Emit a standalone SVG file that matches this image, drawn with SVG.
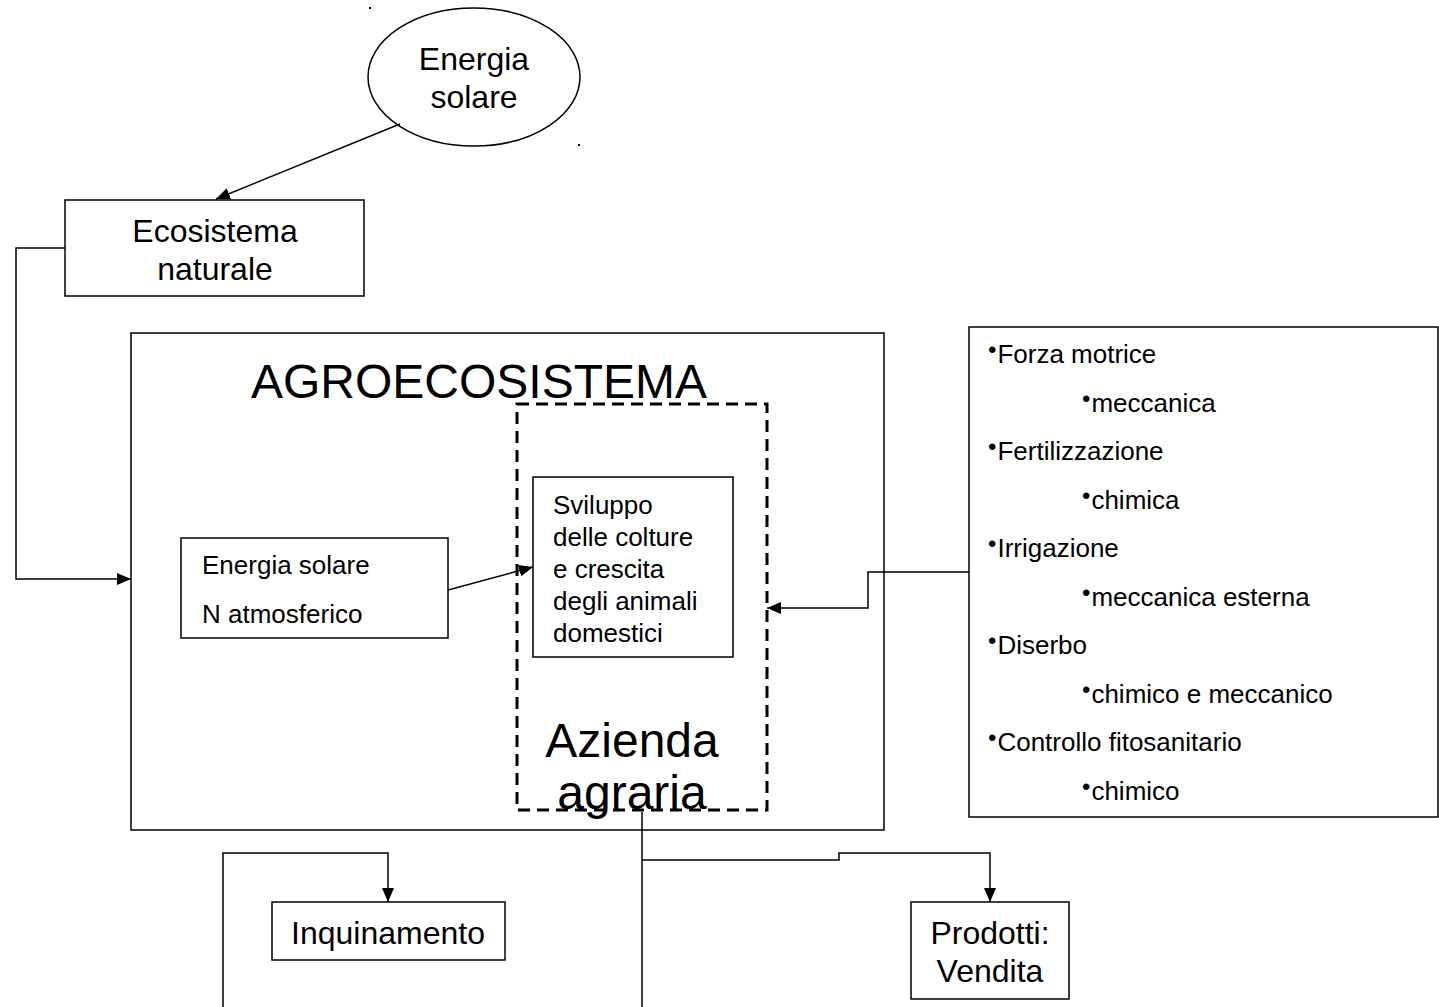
<svg xmlns="http://www.w3.org/2000/svg" width="1439" height="1007" viewBox="0 0 1439 1007">
<style>
.box{fill:#fff;stroke:#000;stroke-width:1.5}
.ln{fill:none;stroke:#000;stroke-width:1.5}
.t{font-family:"Liberation Sans",Arial,sans-serif;fill:#000}
.big{font-size:32px}
.huge{font-size:48px}
.sm{font-size:26px}
.b{font-size:24px}
</style>
<defs>
<marker id="ahL" viewBox="0 0 14 12" refX="14" refY="6" markerWidth="14" markerHeight="12" markerUnits="userSpaceOnUse" orient="auto">
<path d="M0,0 L14,6 L0,12 z" fill="#000"/>
</marker>
</defs>
<rect width="1439" height="1007" fill="#fff"/>
<rect x="369" y="7" width="2" height="2" fill="#000"/>
<rect x="578" y="144" width="2" height="2" fill="#000"/>

<g id="agroecosistema">
<rect class="box" x="131" y="333" width="753" height="497"/>
<text class="t huge" x="479" y="398" text-anchor="middle">AGROECOSISTEMA</text>
</g>
<g id="azienda">
<rect x="517" y="404" width="250" height="406" fill="none" stroke="#000" stroke-width="3" stroke-dasharray="12,7"/>
<text class="t huge" x="632" y="757" text-anchor="middle">Azienda</text>
<text class="t huge" x="632" y="809" text-anchor="middle">agraria</text>
</g>
<g id="energia-solare">
<ellipse class="box" cx="474" cy="77" rx="106" ry="69"/>
<text class="t big" x="474" y="70" text-anchor="middle">Energia</text>
<text class="t big" x="474" y="108" text-anchor="middle">solare</text>
</g>
<g id="ecosistema-naturale">
<rect class="box" x="65" y="200" width="299" height="96"/>
<text class="t big" x="215" y="242" text-anchor="middle">Ecosistema</text>
<text class="t big" x="215" y="280" text-anchor="middle">naturale</text>
</g>
<g id="energia-n">
<rect class="box" x="181" y="538" width="267" height="100"/>
<text class="t sm" x="202" y="574">Energia solare</text>
<text class="t sm" x="202" y="623">N atmosferico</text>
</g>
<g id="sviluppo">
<rect class="box" x="533" y="477" width="200" height="180"/>
<text class="t sm" x="553" y="514">Sviluppo</text>
<text class="t sm" x="553" y="546">delle colture</text>
<text class="t sm" x="553" y="578">e crescita</text>
<text class="t sm" x="553" y="610">degli animali</text>
<text class="t sm" x="553" y="642">domestici</text>
</g>
<g id="input">
<rect class="box" x="969" y="327" width="469" height="490"/>
<text class="t sm" x="988" y="363"><tspan class="b" dy="-5">•</tspan><tspan dx="1" dy="5">Forza motrice</tspan></text>
<text class="t sm" x="1082" y="412"><tspan class="b" dy="-5">•</tspan><tspan dx="1" dy="5">meccanica</tspan></text>
<text class="t sm" x="988" y="460"><tspan class="b" dy="-5">•</tspan><tspan dx="1" dy="5">Fertilizzazione</tspan></text>
<text class="t sm" x="1082" y="509"><tspan class="b" dy="-5">•</tspan><tspan dx="1" dy="5">chimica</tspan></text>
<text class="t sm" x="988" y="557"><tspan class="b" dy="-5">•</tspan><tspan dx="1" dy="5">Irrigazione</tspan></text>
<text class="t sm" x="1082" y="606"><tspan class="b" dy="-5">•</tspan><tspan dx="1" dy="5">meccanica esterna</tspan></text>
<text class="t sm" x="988" y="654"><tspan class="b" dy="-5">•</tspan><tspan dx="1" dy="5">Diserbo</tspan></text>
<text class="t sm" x="1082" y="703"><tspan class="b" dy="-5">•</tspan><tspan dx="1" dy="5">chimico e meccanico</tspan></text>
<text class="t sm" x="988" y="751"><tspan class="b" dy="-5">•</tspan><tspan dx="1" dy="5">Controllo fitosanitario</tspan></text>
<text class="t sm" x="1082" y="800"><tspan class="b" dy="-5">•</tspan><tspan dx="1" dy="5">chimico</tspan></text>
</g>
<g id="inquinamento">
<rect class="box" x="272" y="902" width="233" height="58"/>
<text class="t big" x="388" y="944" text-anchor="middle">Inquinamento</text>
</g>
<g id="prodotti">
<rect class="box" x="911" y="902" width="158" height="97"/>
<text class="t big" x="990" y="944" text-anchor="middle">Prodotti:</text>
<text class="t big" x="990" y="982" text-anchor="middle">Vendita</text>
</g>
<g id="connectors">
<line class="ln" x1="400" y1="124" x2="216" y2="199" marker-end="url(#ahL)"/>
<polyline class="ln" points="65,248 16,248 16,579 131,579" marker-end="url(#ahL)"/>
<line class="ln" x1="448" y1="590" x2="533" y2="567" marker-end="url(#ahL)"/>
<polyline class="ln" points="969,572 868,572 868,608 767,608" marker-end="url(#ahL)"/>
<line class="ln" x1="642" y1="812" x2="642" y2="1007"/>
<polyline class="ln" points="642,860 839,860 839,853 990,853 990,902" marker-end="url(#ahL)"/>
<polyline class="ln" points="223,1007 223,853 388,853 388,902" marker-end="url(#ahL)"/>
</g>
</svg>
